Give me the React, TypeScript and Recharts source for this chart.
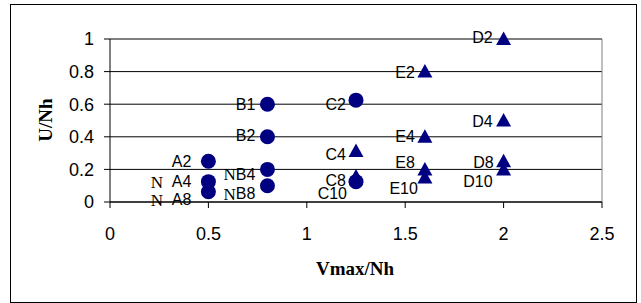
import { ScatterChart, Scatter, XAxis, YAxis, CartesianGrid, ReferenceLine } from "recharts";

// circle markers
const circleNames = ["A2", "A4", "A8", "B1", "B2", "B4", "B8", "C2", "C10"];
const circleX = [0.5, 0.5, 0.5, 0.8, 0.8, 0.8, 0.8, 1.25, 1.25];
const circleY = [0.25, 0.125, 0.0625, 0.6, 0.4, 0.2, 0.1, 0.625, 0.125];

// triangle markers
const triangleNames = ["C4", "C8", "D2", "D4", "D8", "D10", "E2", "E4", "E8", "E10"];
const triangleX = [1.25, 1.25, 2, 2, 2, 2, 1.6, 1.6, 1.6, 1.6];
const triangleY = [0.3125, 0.156, 1, 0.5, 0.25, 0.2, 0.8, 0.4, 0.2, 0.15];

const xTicks = [0, 0.5, 1, 1.5, 2, 2.5];
const yTicks = [0, 0.2, 0.4, 0.6, 0.8, 1];

// where each label sits relative to its marker (right end, vertical middle)
const labelNudge: Record<string, [number, number]> = {
  A2: [-17, 0], A4: [-17, 0], A8: [-17, 8],
  B1: [-12, 0], B2: [-12, -1], B4: [-12, 5], B8: [-12, 8],
  C2: [-10, 4], C10: [-9, 12], C4: [-10, 3], C8: [-10, 4],
  D2: [-11, -2], D4: [-11, 1], D8: [-10, 1], D10: [-11, 12],
  E2: [-10, 1], E4: [-10, 0], E8: [-10, -7], E10: [-7, 11],
};
const labelPrefix: Record<string, string> = { A4: "N", A8: "N", B4: "N", B8: "N" };

const NAVY = "#000080";

const circleData = circleNames.map((name, i) => ({ name, x: circleX[i], y: circleY[i] }));
const triangleData = triangleNames.map((name, i) => ({ name, x: triangleX[i], y: triangleY[i] }));
const allData = [...circleData, ...triangleData];

const Dot = (props: any) => <circle cx={props.cx} cy={props.cy} r={7.5} fill={NAVY} />;

const Tri = (props: any) => {
  const { cx, cy } = props;
  return <path d={`M${cx},${cy - 7.5} L${cx + 7.5},${cy + 6} L${cx - 7.5},${cy + 6} Z`} fill={NAVY} />;
};

const PointLabel = (props: any) => {
  const { cx, cy, payload } = props;
  const [dx, dy] = labelNudge[payload.name] || [-11, 0];
  const pre = labelPrefix[payload.name];
  return (
    <text
      x={cx + dx}
      y={cy + dy}
      textAnchor="end"
      dominantBaseline="central"
      fontFamily="'Liberation Sans', Arial, sans-serif"
      fontSize={16}
      fill="#000"
    >
      {pre && (
        <tspan fontFamily="'Liberation Serif', 'Times New Roman', serif" fontSize={17}>
          {pre}
        </tspan>
      )}
      {pre && payload.name[0] === "A" ? "\u00a0\u00a0" + payload.name : payload.name}
    </text>
  );
};

const tickStyle = { fontFamily: "'Liberation Sans', Arial, sans-serif", fontSize: 18, fill: "#000" };
const titleFont = "'Liberation Serif', 'Times New Roman', serif";

export default function App() {
  return (
    <div style={{ position: "absolute", left: 0, top: 0, width: 641, height: 303, background: "#fff" }}>
      <div
        style={{
          position: "absolute",
          left: 10,
          top: 4,
          width: 625,
          height: 297,
          border: "1px solid #000",
        }}
      />
      <div style={{ position: "absolute", left: 0, top: 0 }}>
        <ScatterChart width={641} height={303} margin={{ top: 39, right: 39, left: 0, bottom: 0 }}>
          <CartesianGrid vertical={false} stroke="#000" strokeWidth={1} />
          <XAxis
            type="number"
            dataKey="x"
            domain={[0, 2.5]}
            ticks={xTicks}
            height={101}
            stroke="#000"
            tickSize={6}
            tickMargin={19}
            tick={tickStyle}
            interval={0}
            label={{
              content: () => (
                <text x={355} y={275} textAnchor="middle" fontFamily={titleFont} fontWeight="bold" fontSize={19} fill="#000">
                  Vmax/Nh
                </text>
              ),
            }}
          />
          <YAxis
            type="number"
            dataKey="y"
            domain={[0, 1]}
            ticks={yTicks}
            width={110}
            stroke="#000"
            tickSize={6}
            tickMargin={10}
            tick={tickStyle}
            interval={0}
            label={{
              content: () => (
                <text
                  x={45}
                  y={120}
                  transform="rotate(-90 45 120)"
                  textAnchor="middle"
                  dominantBaseline="central"
                  fontFamily={titleFont}
                  fontWeight="bold"
                  fontSize={19}
                  fill="#000"
                >
                  U/Nh
                </text>
              ),
            }}
          />
          <ReferenceLine x={2.5} stroke="#808080" />
          <ReferenceLine y={1} stroke="#808080" />
          <Scatter data={circleData} shape={Dot} isAnimationActive={false} />
          <Scatter data={triangleData} shape={Tri} isAnimationActive={false} />
          <Scatter data={allData} shape={PointLabel} isAnimationActive={false} />
        </ScatterChart>
      </div>
    </div>
  );
}
